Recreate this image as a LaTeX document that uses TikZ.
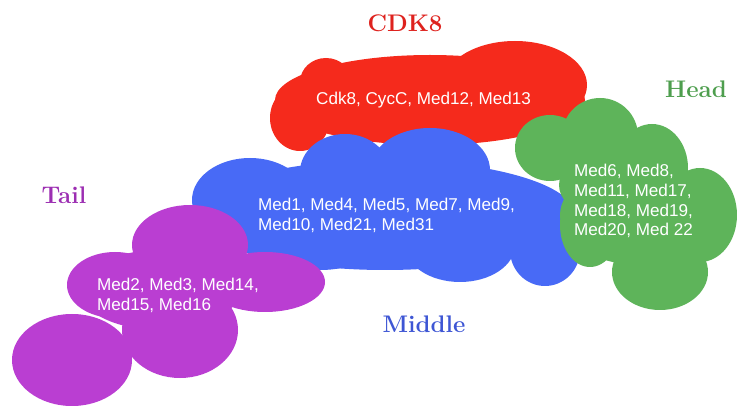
\documentclass[tikz,border=0pt]{standalone}
\usepackage{fontspec}
\setsansfont{Liberation Sans}
\definecolor{cdkred}{RGB}{245,42,28}
\definecolor{midblue}{RGB}{72,106,246}
\definecolor{headgreen}{RGB}{94,180,90}
\definecolor{tailpurple}{RGB}{186,62,210}
\definecolor{cdklbl}{RGB}{222,34,30}
\definecolor{midlbl}{RGB}{62,86,212}
\definecolor{headlbl}{RGB}{78,158,78}
\definecolor{taillbl}{RGB}{156,46,178}
\begin{document}
\begin{tikzpicture}[x=1pt,y=1pt]
	\tikzstyle{every node}+=[inner sep=0pt]
	\tikzstyle{part}=[font=\rmfamily\bfseries\fontsize{24}{28}\selectfont]
	\tikzstyle{members}=[anchor=west,align=left,text=white,font=\sffamily\fontsize{17.1}{19.8}\selectfont]
	\useasboundingbox (0,0) rectangle (737,-406);
	% CDK8 module
	\fill [cdkred] (430,-100) ellipse (155 and 45);
	\fill [cdkred] (515,-85) ellipse (72 and 44);
	\fill [cdkred] (326,-82) ellipse (26 and 24);
	\fill [cdkred] (300,-118) ellipse (30 and 33);
	\fill [cdkred] (400,-95) ellipse (80 and 35);
	% Middle module
	\fill [midblue] (385,-215) ellipse (190 and 55);
	\fill [midblue] (250,-200) ellipse (58 and 42);
	\fill [midblue] (345,-172) ellipse (45 and 38);
	\fill [midblue] (430,-170) ellipse (60 and 42);
	\fill [midblue] (460,-245) ellipse (55 and 37);
	\fill [midblue] (545,-250) ellipse (35 and 36);
	\fill [midblue] (320,-240) ellipse (60 and 30);
	% Tail module
	\fill [tailpurple] (190,-245) ellipse (58 and 40);
	\fill [tailpurple] (115,-285) ellipse (48 and 33);
	\fill [tailpurple] (265,-282) ellipse (60 and 30);
	\fill [tailpurple] (72,-360) ellipse (60 and 46);
	\fill [tailpurple] (180,-330) ellipse (58 and 48);
	\fill [tailpurple] (160,-290) ellipse (80 and 40);
	% Head module
	\fill [headgreen] (640,-215) ellipse (80 and 50);
	\fill [headgreen] (550,-148) ellipse (35 and 33);
	\fill [headgreen] (600,-136) ellipse (38 and 38);
	\fill [headgreen] (652,-168) ellipse (36 and 44);
	\fill [headgreen] (700,-215) ellipse (37 and 47);
	\fill [headgreen] (660,-272) ellipse (48 and 38);
	\fill [headgreen] (590,-225) ellipse (30 and 42);
	\fill [headgreen] (588,-185) ellipse (29 and 26);
	% subunits
	\node [members] (cdkset) at (316,-100) {Cdk8, CycC, Med12, Med13};
	\node [members] (midset) at (258,-215) {Med1, Med4, Med5, Med7, Med9,\\Med10, Med21, Med31};
	\node [members] (headset) at (574,-201) {Med6, Med8,\\Med11, Med17,\\Med18, Med19,\\Med20, Med 22};
	\node [members] (tailset) at (97,-295) {Med2, Med3, Med14,\\Med15, Med16};
	% module names
	\node [part,text=cdklbl] (cdklabel) at (405,-23) {CDK8};
	\node [part,text=headlbl] (headlabel) at (696,-89) {Head};
	\node [part,text=taillbl] (taillabel) at (64,-195) {Tail};
	\node [part,text=midlbl] (midlabel) at (424,-324) {Middle};
\end{tikzpicture}
\end{document}
